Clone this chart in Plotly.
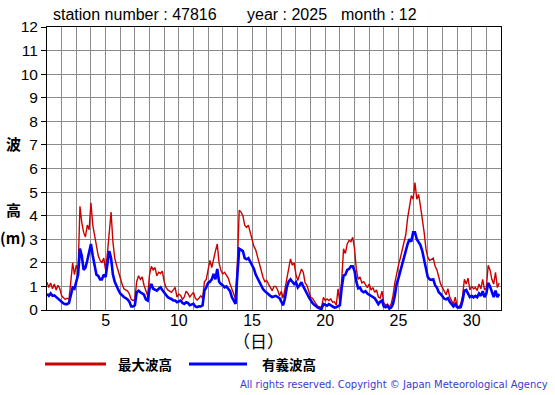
import plotly.graph_objects as go

# ---------------- data (3-hourly, Dec 2025) ----------------
max_wave = [  # 最大波高 (m)
    1.18, 0.95, 1.15, 0.9, 1.1, 0.85, 1.05, 0.9,      # 1
    0.6, 0.5, 0.45, 0.5, 0.45, 1.2, 2.0, 1.5,         # 2
    1.9, 1.7, 4.4, 3.7, 3.3, 3.1, 3.6, 3.4,           # 3
    4.55, 3.6, 3.2, 2.8, 2.3, 2.1, 2.0, 2.2,          # 4
    1.7, 2.4, 3.2, 4.15, 2.9, 2.2, 1.9, 1.6,          # 5
    1.3, 1.1, 0.9, 0.85, 0.8, 0.68, 0.45, 0.4,        # 6
    0.45, 1.2, 1.45, 1.3, 1.4, 1.05, 0.85, 0.6,       # 7
    1.5, 1.85, 1.7, 1.8, 1.45, 1.6, 1.55, 1.65,       # 8
    1.2, 0.96, 0.85, 0.8, 0.75, 0.85, 0.96, 0.55,     # 9
    0.68, 0.62, 0.45, 0.55, 0.8, 0.7, 0.55, 0.65,     # 10
    0.75, 0.5, 0.42, 0.5, 0.6, 0.5, 1.2, 1.3,         # 11
    1.67, 2.1, 1.8, 2.2, 2.5, 2.8, 2.0, 1.67,         # 12
    1.53, 1.6, 1.5, 1.35, 1.1, 0.9, 0.68, 0.47,       # 13
    2.0, 4.23, 4.15, 4.0, 3.6, 3.5, 3.6, 3.3,         # 14
    3.05, 2.7, 2.55, 2.25, 1.96, 1.6, 1.39, 1.2,      # 15
    1.25, 1.1, 0.95, 0.82, 1.0, 1.0, 0.85, 0.6,       # 16
    0.8, 0.5, 0.9, 1.35, 1.67, 2.17, 1.9, 2.0,        # 17
    1.5, 1.25, 1.5, 1.74, 1.6, 1.15, 1.05, 0.75,      # 18
    0.54, 0.5, 0.35, 0.26, 0.15, 0.12, 0.12, 0.54,    # 19
    0.4, 0.47, 0.4, 0.47, 0.33, 0.35, 0.2, 0.9,       # 20
    0.3, 1.3, 2.6, 2.4, 2.8, 2.95, 2.9, 3.08,         # 21
    2.6, 1.7, 1.3, 1.4, 1.15, 1.2, 1.05, 0.95,        # 22
    1.1, 0.85, 0.95, 0.75, 0.85, 0.55, 0.5, 0.8,      # 23
    0.3, 0.2, 0.25, 0.1, 0.25, 0.6, 1.15, 1.6,        # 24
    1.9, 2.2, 2.55, 2.9, 3.2, 3.9, 4.4, 4.85,         # 25
    4.7, 5.4, 4.7, 4.9, 4.4, 3.9, 3.3, 2.6,           # 26
    2.24, 2.1, 2.15, 2.2, 1.85, 1.7, 1.4, 1.1,        # 27
    0.95, 0.8, 0.65, 0.9, 0.55, 0.4, 0.25, 0.54,      # 28
    0.2, 0.12, 0.25, 0.6, 1.3, 1.1, 1.35, 0.85,       # 29
    1.0, 0.9, 0.95, 0.82, 1.1, 0.9, 1.3, 0.85,        # 30
    0.95, 1.9, 1.7, 1.3, 1.1, 1.6, 0.95, 1.15,        # 31
]

sig_wave = [  # 有義波高 (m)
    0.68, 0.6, 0.7, 0.6, 0.62, 0.55, 0.5, 0.45,       # 1
    0.35, 0.28, 0.25, 0.25, 0.3, 0.7, 0.95, 0.9,      # 2
    1.2, 1.5, 2.6, 2.3, 1.7, 1.8, 2.1, 2.4,           # 3
    2.8, 2.3, 1.8, 1.5, 1.45, 1.3, 1.3, 1.5,          # 4
    1.4, 1.9, 2.5, 2.2, 1.5, 1.2, 1.0, 0.85,          # 5
    0.7, 0.6, 0.55, 0.5, 0.45, 0.35, 0.15, 0.15,      # 6
    0.2, 0.75, 0.82, 0.75, 0.7, 0.65, 0.45, 0.4,      # 7
    0.9, 1.1, 0.9, 0.85, 0.82, 0.9, 0.96, 0.85,       # 8
    0.75, 0.6, 0.54, 0.5, 0.47, 0.4, 0.4, 0.33,       # 9
    0.38, 0.4, 0.3, 0.26, 0.33, 0.3, 0.2, 0.22,       # 10
    0.26, 0.15, 0.12, 0.16, 0.15, 0.2, 0.82, 0.96,    # 11
    1.15, 1.2, 1.3, 1.53, 1.3, 1.74, 1.2, 1.1,        # 12
    1.05, 0.96, 1.0, 0.9, 0.8, 0.54, 0.4, 0.26,       # 13
    1.5, 2.6, 2.55, 2.5, 2.2, 2.15, 2.2, 2.05,        # 14
    1.85, 1.75, 1.5, 1.35, 1.2, 1.03, 0.89, 0.8,      # 15
    0.72, 0.65, 0.6, 0.55, 0.58, 0.6, 0.55, 0.5,      # 16
    0.35, 0.2, 0.5, 0.96, 1.2, 1.3, 1.2, 1.1,         # 17
    1.18, 0.96, 1.05, 1.18, 1.0, 0.82, 0.7, 0.55,     # 18
    0.4, 0.3, 0.22, 0.15, 0.1, 0.06, 0.05, 0.25,      # 19
    0.2, 0.18, 0.25, 0.2, 0.12, 0.1, 0.12, 0.15,      # 20
    0.2, 0.95, 1.46, 1.5, 1.7, 1.74, 1.85, 1.85,      # 21
    1.65, 1.2, 0.92, 0.95, 0.8, 0.75, 0.8, 0.7,       # 22
    0.65, 0.6, 0.55, 0.5, 0.38, 0.25, 0.35, 0.4,      # 23
    0.15, 0.12, 0.18, 0.06, 0.1, 0.25, 0.6, 1.1,      # 24
    1.35, 1.65, 1.95, 2.3, 2.55, 2.8, 3.0, 2.9,       # 25
    3.3, 3.3, 3.0, 2.9, 2.75, 2.5, 2.1, 1.7,          # 26
    1.4, 1.3, 1.28, 1.3, 1.05, 0.95, 0.75, 0.68,      # 27
    0.55, 0.48, 0.45, 0.5, 0.35, 0.22, 0.15, 0.25,    # 28
    0.12, 0.1, 0.12, 0.4, 0.82, 0.85, 0.7, 0.55,      # 29
    0.6, 0.54, 0.6, 0.54, 0.7, 0.6, 0.8, 0.55,        # 30
    0.7, 1.15, 1.0, 0.8, 0.55, 0.82, 0.55, 0.68,      # 31
]

samples_per_day = 8
days = [1 + k / samples_per_day for k in range(len(max_wave))]

x_tick_vals = list(range(1, 33))
x_tick_text = [str(d) if d % 5 == 0 else "" for d in x_tick_vals]
y_tick_vals = list(range(0, 13))

title_parts = ["station number : 47816", "year : 2025", "month : 12"]
legend_labels = ["最大波高", "有義波高"]
y_title_parts = ["波", "高", "(m)"]
x_title = "（日）"
copyright_text = "All rights reserved. Copyright © Japan Meteorological Agency"

RED = "#cc0000"
BLUE = "#0000ff"

# ---------------- layout helpers (pixel -> paper) ----------------
W_FIG, H_FIG = 555, 395
L, T, R, B = 47, 27, 54, 85
PW = W_FIG - L - R
PH = H_FIG - T - B


def px(x):
    return (x - L) / PW


def py(y):
    return 1 - (y - T) / PH


LAT = "Liberation Sans, Arial, sans-serif"
CJK = "Noto Sans CJK JP, sans-serif"

fig = go.Figure()
fig.add_trace(go.Scatter(x=days, y=max_wave, mode="lines",
                         line=dict(color=RED, width=1.4), name=legend_labels[0],
                         showlegend=False))
fig.add_trace(go.Scatter(x=days, y=sig_wave, mode="lines",
                         line=dict(color=BLUE, width=2.6), name=legend_labels[1],
                         showlegend=False))

fig.update_xaxes(range=[1, 32], tickmode="array", tickvals=x_tick_vals,
                 ticktext=x_tick_text, showgrid=True, gridcolor="#8c8c8c",
                 gridwidth=1, showline=True, linecolor="black", linewidth=1,
                 mirror=True, ticks="", zeroline=False, ticklabelstandoff=-4,
                 tickfont=dict(family=LAT, size=16, color="black"))
fig.update_yaxes(range=[0, 12], tickmode="array", tickvals=y_tick_vals,
                 showgrid=True, gridcolor="#8c8c8c", gridwidth=1,
                 showline=True, linecolor="black", linewidth=1, mirror=True,
                 ticks="outside", ticklen=5, tickcolor="black", zeroline=False,
                 tickfont=dict(family=LAT, size=15.5, color="black"))

ann = []
for text, x in zip(title_parts, [51, 245, 339]):
    ann.append(dict(text=text, x=px(x), y=py(15), xref="paper", yref="paper",
                    xanchor="left", yanchor="middle", showarrow=False,
                    font=dict(family=LAT, size=16, color="black")))
for text, y in zip(y_title_parts, [143, 209, 237]):
    ann.append(dict(text="<b>" + text + "</b>", x=px(13), y=py(y), xref="paper",
                    yref="paper", xanchor="center", yanchor="middle",
                    showarrow=False, font=dict(family=CJK, size=15, color="black")))
ann.append(dict(text=x_title, x=px(258), y=py(340), xref="paper", yref="paper",
                xanchor="center", yanchor="middle", showarrow=False,
                font=dict(family=CJK, size=17, color="black")))
for text, x in zip(legend_labels, [116, 260]):
    ann.append(dict(text="<b>" + text + "</b>", x=px(x), y=py(364), xref="paper",
                    yref="paper", xanchor="left", yanchor="middle",
                    showarrow=False, font=dict(family=CJK, size=13.5, color="black")))
ann.append(dict(text=copyright_text, x=px(550), y=py(384), xref="paper",
                yref="paper", xanchor="right", yanchor="middle", showarrow=False,
                font=dict(family="DejaVu Sans, sans-serif", size=10, color="#3a3ad0")))

shapes = [
    dict(type="line", xref="paper", yref="paper", x0=px(45), x1=px(106),
         y0=py(364), y1=py(364), line=dict(color=RED, width=3)),
    dict(type="line", xref="paper", yref="paper", x0=px(189), x1=px(247),
         y0=py(364), y1=py(364), line=dict(color=BLUE, width=3)),
]

fig.update_layout(width=W_FIG, height=H_FIG,
                  margin=dict(l=L, r=R, t=T, b=B, pad=0),
                  paper_bgcolor="white", plot_bgcolor="white",
                  annotations=ann, shapes=shapes, showlegend=False)

fig.write_html("out.html", config={"displayModeBar": False},
               post_script="document.body.style.margin='0';document.body.style.padding='0';document.body.style.overflow='hidden';")
